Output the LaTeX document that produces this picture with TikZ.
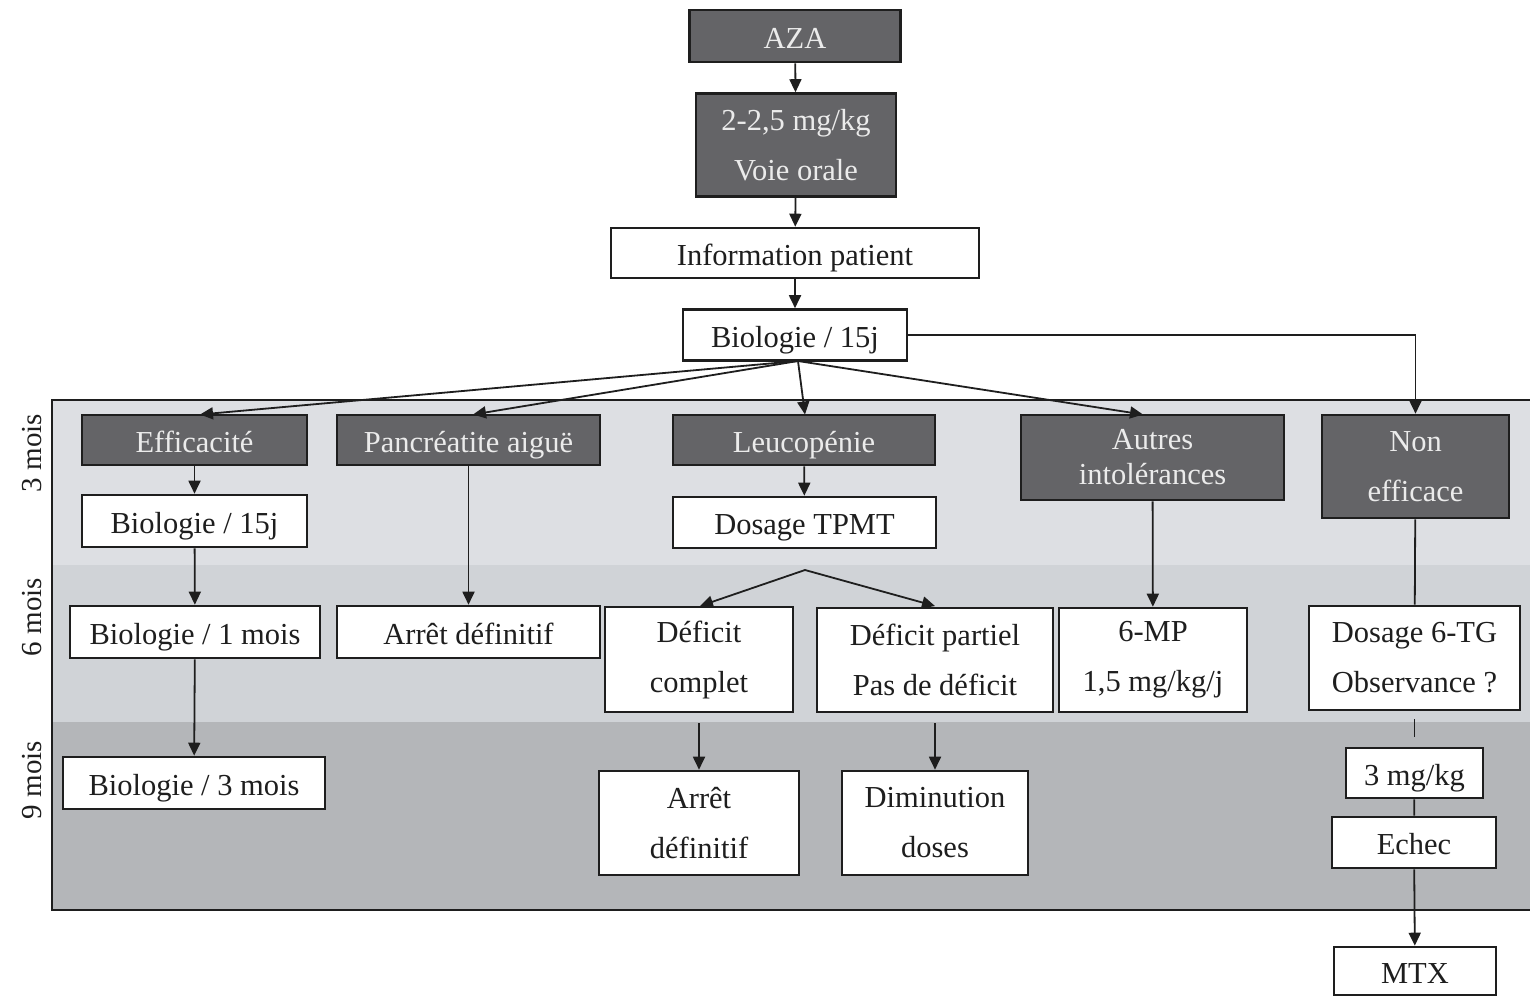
\documentclass[tikz,border=0pt]{standalone}
\usepackage{fontspec}
\setmainfont{Liberation Serif}
\usetikzlibrary{arrows.meta}
\definecolor{darkbox}{RGB}{100,100,103}
\definecolor{lighttext}{RGB}{235,235,235}
\definecolor{bandA}{RGB}{221,223,227}
\definecolor{bandB}{RGB}{208,211,215}
\definecolor{bandC}{RGB}{180,182,185}
\definecolor{ink}{RGB}{30,30,30}
\newcommand\nfont{\fontsize{30.5}{50}\selectfont}
\newcommand\nfontb{\fontsize{30.5}{35}\selectfont}
\tikzset{
  box/.style={draw=ink, line width=2.6pt, fill=white, inner sep=0pt, align=center, font=\nfont, text=ink},
  dbox/.style={box, fill=darkbox, text=lighttext},
  oneline/.style={text height=25pt, text depth=1pt},
  arr/.style={draw=ink, line width=1.8pt, -{Triangle[length=13pt,width=12pt]}},
  ln/.style={draw=ink, line width=1.8pt},
  lab/.style={font=\fontsize{29}{30}\selectfont, text=ink, rotate=90, inner sep=0pt},
}
\begin{document}
\begin{tikzpicture}[x=1pt,y=-1pt]
\useasboundingbox (0,0) rectangle (1530,997);
\fill[white] (0,0) rectangle (1530,997);
% bands
\fill[bandA] (52,400) rectangle (1530,565);
\fill[bandB] (52,565) rectangle (1530,722);
\fill[bandC] (52,722) rectangle (1530,910);
\draw[ink, line width=2.4pt] (1530,400) -- (52,400) -- (52,910) -- (1530,910);
% labels
\node[lab] (m3) at (32,453) {3 mois};
\node[lab] (m6) at (32,617) {6 mois};
\node[lab] (m9) at (32,780) {9 mois};
% top chain
\node[dbox, oneline, minimum width=211pt, minimum height=52pt] (aza) at (795,36) {AZA};
\node[dbox, minimum width=200pt, minimum height=103pt] (dose) at (796,145) {2-2,5 mg/kg\\Voie orale};
\node[box, oneline, minimum width=368pt, minimum height=50pt] (info) at (795,253) {Information patient};
\node[box, oneline, minimum width=224pt, minimum height=51pt] (bio) at (795,335) {Biologie / 15j};
% row 1
\node[dbox, oneline, minimum width=225pt, minimum height=50pt] (eff) at (194.5,440) {Efficacité};
\node[dbox, oneline, minimum width=263pt, minimum height=50pt] (pan) at (468.5,440) {Pancréatite aiguë};
\node[dbox, oneline, minimum width=262pt, minimum height=50pt] (leu) at (804,440) {Leucopénie};
\node[dbox, minimum width=263pt, minimum height=85pt, font=\nfontb] (aut) at (1152.5,457.5) {Autres\\intolérances};
\node[dbox, minimum width=187pt, minimum height=103pt] (non) at (1415.5,466.5) {Non\\efficace};
% row 2
\node[box, oneline, minimum width=225pt, minimum height=52pt] (bio15) at (194.5,521) {Biologie / 15j};
\node[box, oneline, minimum width=263pt, minimum height=51pt] (tpmt) at (804.5,522.5) {Dosage TPMT};
% row 3
\node[box, oneline, minimum width=250pt, minimum height=52pt] (bio1) at (195,632) {Biologie / 1 mois};
\node[box, oneline, minimum width=263pt, minimum height=52pt] (arr1) at (468.5,632) {Arrêt définitif};
\node[box, minimum width=188pt, minimum height=105pt] (defc) at (699,659.5) {Déficit\\complet};
\node[box, minimum width=236pt, minimum height=104pt] (defp) at (935,660) {Déficit partiel\\Pas de déficit};
\node[box, minimum width=188pt, minimum height=104pt] (mp) at (1153,660) {6-MP\\1,5 mg/kg/j};
\node[box, minimum width=211pt, minimum height=104pt] (tg) at (1414.5,658) {Dosage 6-TG\\Observance ?};
% row 4
\node[box, oneline, minimum width=262pt, minimum height=52pt] (bio3) at (194,783) {Biologie / 3 mois};
\node[box, minimum width=200pt, minimum height=104pt] (arr2) at (699,823) {Arrêt\\définitif};
\node[box, minimum width=186pt, minimum height=104pt] (dim) at (935,823) {Diminution\\doses};
\node[box, oneline, minimum width=137pt, minimum height=50pt] (mg3) at (1414.5,773) {3 mg/kg};
\node[box, oneline, minimum width=164pt, minimum height=51pt] (ech) at (1414,842.5) {Echec};
\node[box, oneline, minimum width=162pt, minimum height=48pt] (mtx) at (1415,971) {MTX};
% connectors top
\draw[arr] (aza) -- (dose);
\draw[arr] (dose) -- (info);
\draw[arr] (info) -- (bio);
\coordinate (fan) at (798,361);
\draw[arr] (fan) -- (200,414.5);
\draw[arr] (fan) -- (473,414.5);
\draw[arr] (fan) -- (805,414.5);
\draw[arr] (fan) -- (1143,414.5);
\draw[arr] (bio.east) -| (non.north);
% left column
\draw[arr] (eff) -- (bio15);
\draw[arr] (bio15) -- (bio1);
\draw[arr] (bio1) -- (bio3);
\draw[arr] (pan) -- (arr1);
\draw[arr] (leu) -- (tpmt);
\coordinate (apex) at (805,570);
\draw[arr] (apex) -- (700,606);
\draw[arr] (apex) -- (935,606);
\draw[arr] ([yshift=-10pt]defc.south) -- (arr2.north);
\draw[arr] ([yshift=-10pt]defp.south) -- (dim.north);
\draw[arr] (aut) -- (mp);
\draw[ln] (non) -- (tg);
\draw[ln] ([yshift=-8pt]tg.south) -- ([yshift=10pt]mg3.north);
\draw[ln] (mg3) -- (ech);
\draw[arr] (ech) -- (mtx);
\end{tikzpicture}
\end{document}
